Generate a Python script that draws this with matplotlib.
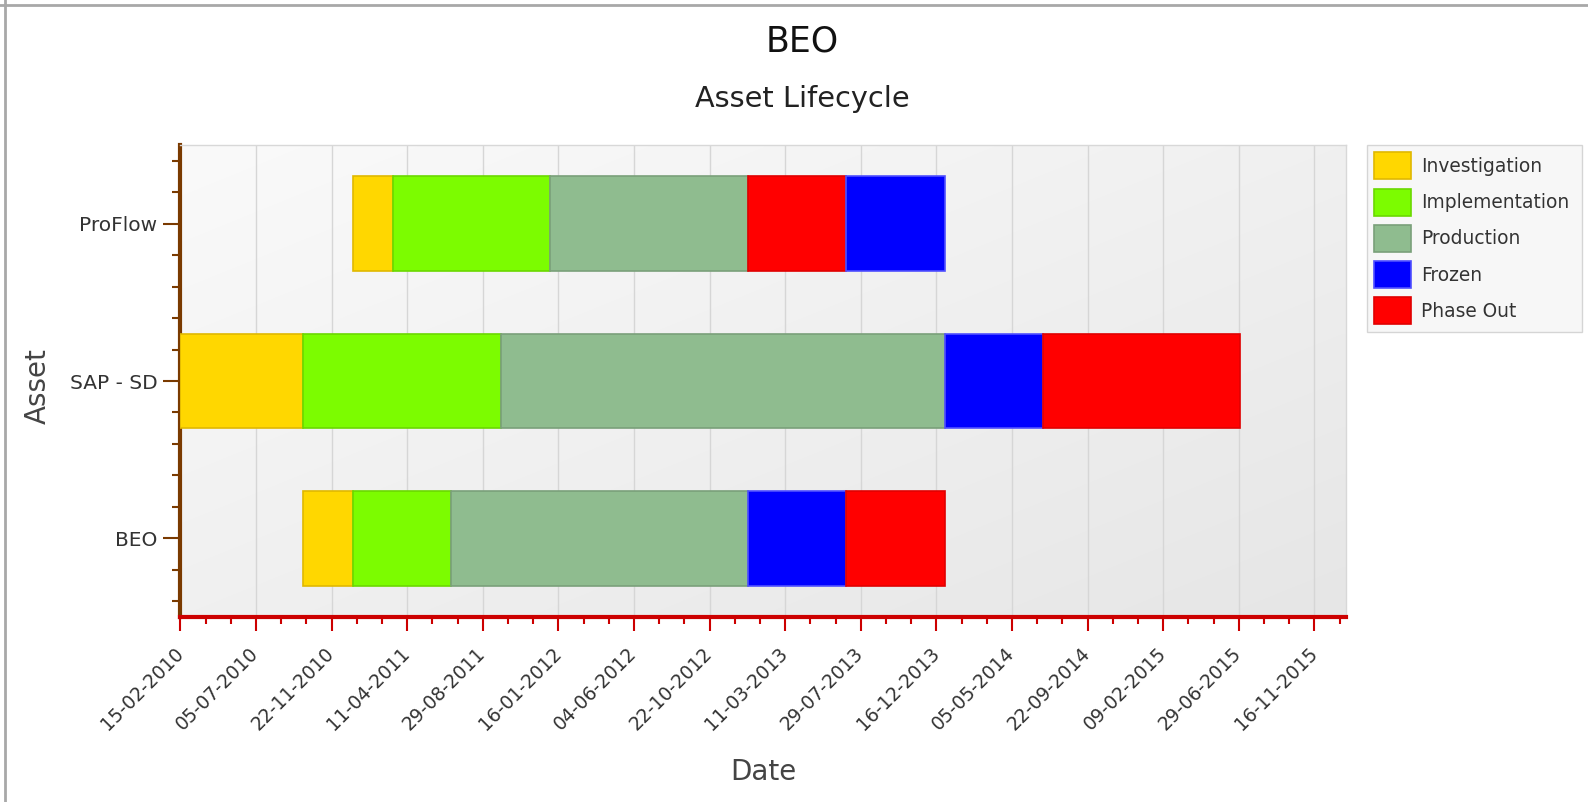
import numpy as np
import pandas as pd
import matplotlib
matplotlib.use("Agg")
import matplotlib.pyplot as plt
import matplotlib.dates as mdates
from matplotlib.patches import Patch
from matplotlib.lines import Line2D

plt.rcParams["font.family"] = ["DejaVu Sans"]

# Data: assets bottom to top, phases in drawing order, phase boundary dates
assets = ["BEO", "SAP - SD", "ProFlow"]

beo_phases = ["Investigation", "Implementation", "Production", "Frozen", "Phase Out"]
beo_dates = ["2010-10-01", "2011-01-01", "2011-07-01", "2013-01-01", "2013-07-01", "2014-01-01"]

sap_phases = ["Investigation", "Implementation", "Production", "Frozen", "Phase Out"]
sap_dates = ["2010-02-15", "2010-10-01", "2011-10-01", "2014-01-01", "2014-07-01", "2015-07-01"]

proflow_phases = ["Investigation", "Implementation", "Production", "Phase Out", "Frozen"]
proflow_dates = ["2011-01-01", "2011-03-15", "2012-01-01", "2013-01-01", "2013-07-01", "2014-01-01"]

legend_order = ["Investigation", "Implementation", "Production", "Frozen", "Phase Out"]
face = {"Investigation": "#FFD700", "Implementation": "#7CFC00", "Production": "#8FBC8F",
        "Frozen": "#0000FF", "Phase Out": "#FF0000"}
edge = {"Investigation": "#E0B800", "Implementation": "#6AD800", "Production": "#7AA07A",
        "Frozen": "#5050FF", "Phase Out": "#E00000"}

axis_start = pd.Timestamp("2010-02-15")
axis_end = pd.Timestamp("2016-01-13")

fig = plt.figure(figsize=(15.88, 8.02), dpi=100)
ax = fig.add_axes([180.3 / 1588, 1 - 617 / 802, (1345.7 - 180.3) / 1588, (617 - 145) / 802])

# plot area gradient
gx, gy = np.meshgrid(np.linspace(0, 1, 200), np.linspace(0, 1, 200))
grad = 0.5 * gx + 0.5 * gy
ax.imshow(grad, cmap=matplotlib.colors.LinearSegmentedColormap.from_list("g", ["#FAFAFA", "#E6E6E6"]),
          extent=[0, 1, 0, 1], transform=ax.transAxes, aspect="auto", zorder=0, interpolation="bicubic")

rows = [(beo_phases, beo_dates), (sap_phases, sap_dates), (proflow_phases, proflow_dates)]
for i, (phases, dates) in enumerate(rows):
    d = mdates.date2num(pd.to_datetime(dates))
    for j, ph in enumerate(phases):
        ax.barh(i, d[j + 1] - d[j], left=d[j], height=0.6, color=face[ph],
                edgecolor=edge[ph], linewidth=1.2, zorder=3)

ax.set_xlim(mdates.date2num(axis_start), mdates.date2num(axis_end))
ax.set_ylim(-0.5, 2.5)

# date ticks every 140 days, minor ticks in thirds
major = [axis_start + pd.Timedelta(days=140 * k) for k in range(16)]
minor = [axis_start + pd.Timedelta(days=140 * k / 3) for k in range(47)]
ax.set_xticks(mdates.date2num(major))
ax.set_xticks(mdates.date2num(minor), minor=True)
ax.xaxis.set_major_formatter(mdates.DateFormatter("%d-%m-%Y"))
ax.set_yticks(range(len(assets)))
ax.set_yticklabels(assets)
ax.set_yticks(np.arange(-0.4, 2.45, 0.2), minor=True)

ax.grid(axis="x", which="major", color="#D6D6D6", linewidth=1.0, zorder=1)
ax.set_axisbelow(True)

for lab in ax.get_xticklabels():
    lab.set_rotation(45)
    lab.set_ha("right")
    lab.set_va("center")
    lab.set_rotation_mode("anchor")
ax.tick_params(axis="x", which="major", length=10, width=1.5, color="#CC0000", labelsize=13.5,
               pad=14, labelcolor="#333333")
ax.tick_params(axis="x", which="minor", length=5, width=1.5, color="#CC0000")
ax.tick_params(axis="y", which="major", length=12, width=1.5, color="#7A3A00", labelsize=14.5,
               pad=4.5, labelcolor="#333333")
ax.tick_params(axis="y", which="minor", length=6, width=1.5, color="#7A3A00")

ax.spines["left"].set_color("#7A3A00")
ax.spines["left"].set_linewidth(3)
ax.spines["bottom"].set_color("#CC0000")
ax.spines["bottom"].set_linewidth(3)
for s in ["top", "right"]:
    ax.spines[s].set_color("#D8D8D8")
    ax.spines[s].set_linewidth(1)

ax.set_xlabel("Date", fontsize=20, color="#444444")
ax.xaxis.set_label_coords(0.5003, -0.328)
ax.xaxis.label.set_va("center")
ax.set_ylabel("Asset", fontsize=20, color="#444444")
ax.yaxis.set_label_coords(-0.1226, 0.49)
ax.yaxis.label.set_va("center")

fig.text(0.505, 1 - 51.7 / 802, "BEO", ha="center", va="baseline", fontsize=25, color="#111111")
fig.text(0.505, 1 - 106.7 / 802, "Asset Lifecycle", ha="center", va="baseline", fontsize=20.7,
         color="#222222")

handles = [Patch(facecolor=face[p], edgecolor=edge[p], linewidth=1.2, label=p) for p in legend_order]
leg = fig.legend(handles=handles, loc="upper left",
                 bbox_to_anchor=(1367 / 1588, 1 - 145 / 802, (1582 - 1367) / 1588, 0), mode="expand",
                 fontsize=13.4, frameon=True, fancybox=False, handlelength=1.95, handleheight=1.85,
                 labelspacing=0.5, handletextpad=0.55, borderpad=0.4, borderaxespad=0)
leg.get_frame().set_facecolor("#F5F5F5")
leg.get_frame().set_edgecolor("#CCCCCC")
leg.get_frame().set_linewidth(1)
for t in leg.get_texts():
    t.set_color("#333333")

# outer frame (top and left)
fig.add_artist(Line2D([0, 1], [1 - 4.6 / 802] * 2, transform=fig.transFigure, color="#A8A8A8", linewidth=2))
fig.add_artist(Line2D([4.6 / 1588] * 2, [0, 1], transform=fig.transFigure, color="#A8A8A8", linewidth=2))

fig.savefig("out.png", dpi=100)
